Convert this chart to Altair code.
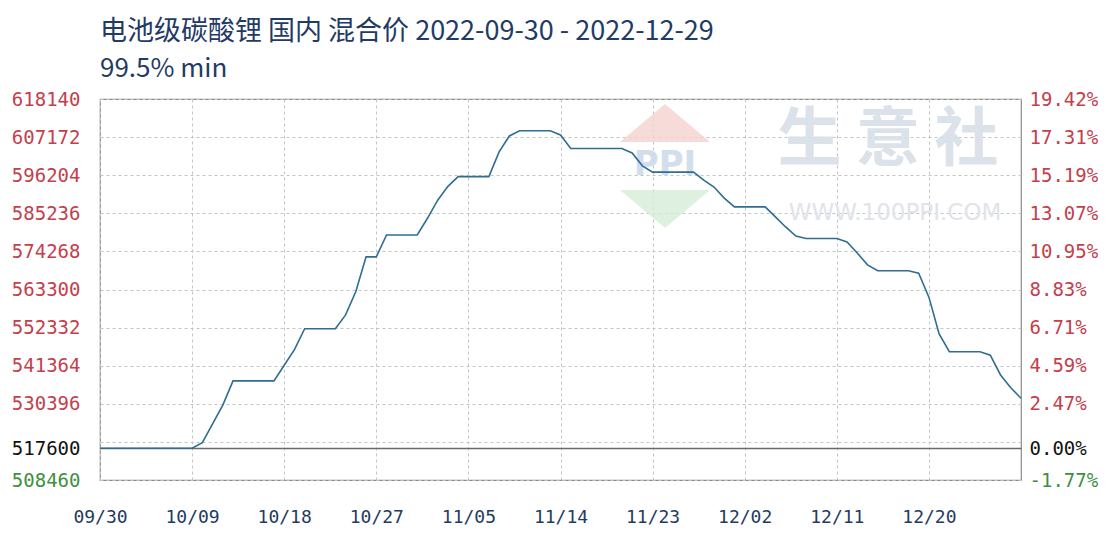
import altair as alt
import pandas as pd

dates = ["2022-09-30", "2022-10-09", "2022-10-10", "2022-10-12", "2022-10-13", "2022-10-17",
         "2022-10-18", "2022-10-19", "2022-10-20", "2022-10-23", "2022-10-24", "2022-10-25",
         "2022-10-26", "2022-10-27", "2022-10-28", "2022-10-31", "2022-11-01", "2022-11-02",
         "2022-11-03", "2022-11-04", "2022-11-07", "2022-11-08", "2022-11-09", "2022-11-10",
         "2022-11-13", "2022-11-14", "2022-11-15", "2022-11-20", "2022-11-21", "2022-11-22",
         "2022-11-23", "2022-11-27", "2022-11-28", "2022-11-29", "2022-11-30", "2022-12-01",
         "2022-12-04", "2022-12-05", "2022-12-06", "2022-12-07", "2022-12-08", "2022-12-11",
         "2022-12-12", "2022-12-13", "2022-12-14", "2022-12-15", "2022-12-18", "2022-12-19",
         "2022-12-20", "2022-12-21", "2022-12-22", "2022-12-25", "2022-12-26", "2022-12-27",
         "2022-12-28", "2022-12-29"]
prices = [517600, 517600, 519200, 530000, 537000, 537000,
          541500, 546000, 552000, 552000, 556000, 562700,
          572700, 572700, 579000, 579000, 583800, 589000,
          593000, 595800, 595800, 602900, 607500, 609000,
          609000, 607800, 603900, 603900, 602600, 598900,
          597100, 597100, 594800, 592800, 589600, 587100,
          587100, 584200, 581300, 578700, 578000, 578000,
          577000, 573800, 570400, 568700, 568700, 568000,
          561100, 550500, 545400, 545400, 544400, 538700,
          535000, 532000]

base_price = 517600
grid_ticks = [618140, 607172, 596204, 585236, 574268, 563300, 552332, 541364, 530396, 519428, 517600, 508460]
label_ticks = [618140, 607172, 596204, 585236, 574268, 563300, 552332, 541364, 530396, 517600, 508460]
x_ticks = ["2022-09-30", "2022-10-09", "2022-10-18", "2022-10-27", "2022-11-05", "2022-11-14",
           "2022-11-23", "2022-12-02", "2022-12-11", "2022-12-20"]
x_domain = ["2022-09-30", "2022-12-29"]
title_text = "电池级碳酸锂 国内 混合价 2022-09-30 - 2022-12-29"
subtitle_text = "99.5% min"


def dt(s):
    y, m, d = (int(p) for p in s.split("-"))
    return alt.DateTime(year=y, month=m, date=d, utc=True)


df = pd.DataFrame({"date": dates, "price": prices})

xscale = alt.Scale(type="utc", domain=[dt(s) for s in x_domain])
yscale = alt.Scale(domain=[508460, 618140], nice=False, zero=False)
xaxis = alt.Axis(values=[dt(s) for s in x_ticks],
                 labelExpr="utcFormat(datum.value, '%m/%d')",
                 grid=True, gridDash=[3, 3], gridColor="#c4c4c4", ticks=False, domain=False,
                 labelFlush=False,
                 labelPadding=28, labelFont="DejaVu Sans Mono", labelFontSize=18,
                 labelColor="#1f3b5e", title=None)

label_color = {"condition": [{"test": "datum.value == 517600", "value": "#111111"},
                             {"test": "datum.value == 508460", "value": "#3f8f3f"}],
               "value": "#c4404c"}

line = alt.Chart(df).mark_line(color="#2f6d93", strokeWidth=1.6).encode(
    x=alt.X("date:T", scale=xscale, axis=xaxis),
    y=alt.Y("price:Q", scale=yscale, axis=alt.Axis(
        values=grid_ticks, format="d",
        labelExpr="datum.value == 519428 ? '' : datum.label",
        grid=True,
        gridColor={"condition": {"test": "datum.value == 517600", "value": "#6a6a6a"}, "value": "#c4c4c4"},
        gridDash={"condition": {"test": "datum.value == 517600", "value": [1, 0]}, "value": [3, 3]},
        gridWidth={"condition": {"test": "datum.value == 517600", "value": 1.5}, "value": 1},
        labelColor=label_color,
        ticks=False, domain=False, title=None, labelPadding=20,
        labelFont="DejaVu Sans Mono", labelFontSize=19)),
)

right = alt.Chart(df).mark_line(opacity=0).encode(
    x=alt.X("date:T", scale=xscale, axis=xaxis),
    y=alt.Y("price:Q", scale=yscale, axis=alt.Axis(
        orient="right", values=label_ticks,
        labelExpr="replace(format((datum.value - 517600) / 517600, '.2%'), '\u2212', '-')",
        grid=False, ticks=False, domain=False, title=None, labelPadding=8,
        labelColor=label_color,
        labelFont="DejaVu Sans Mono", labelFontSize=19)),
)

one = pd.DataFrame({"t": [""]})

wm_logo_up = alt.Chart(one).mark_point(
    shape="M-1,0.42L0,-0.42L1,0.42Z", filled=True, fill="#f4d2cf", opacity=0.8, size=8100, strokeWidth=0
).encode(x=alt.value(565), y=alt.value(24))
wm_logo_down = alt.Chart(one).mark_point(
    shape="M-1,-0.42L0,0.42L1,-0.42Z", filled=True, fill="#d6ecd8", opacity=0.8, size=8100, strokeWidth=0
).encode(x=alt.value(565), y=alt.value(110))
wm_ppi = alt.Chart(pd.DataFrame({"t": ["PPI"]})).mark_text(
    font="DejaVu Sans", fontSize=34, fontWeight="bold", color="#c9d6e8", opacity=0.8
).encode(text="t:N", x=alt.value(565), y=alt.value(66))
wm_name = alt.Chart(pd.DataFrame({"t": ["生 意 社"]})).mark_text(
    font="Noto Sans CJK SC", fontSize=64, fontWeight="bold", color="#d9dfe8", opacity=0.9
).encode(text="t:N", x=alt.value(788), y=alt.value(42))
wm_url = alt.Chart(pd.DataFrame({"t": ["WWW.100PPI.COM"]})).mark_text(
    font="DejaVu Sans", fontSize=23, color="#e0e4ea"
).encode(text="t:N", x=alt.value(795), y=alt.value(114))

chart = alt.layer(
    wm_logo_up, wm_logo_down, wm_ppi, wm_name, wm_url, line, right
).resolve_scale(y="independent").properties(
    width=921, height=381,
    autosize=alt.AutoSizeParams(type="none"),
    padding={"left": 92, "top": 91, "right": 91, "bottom": 51},
    background="#ffffff",
    title=alt.TitleParams(
        text=title_text, subtitle=subtitle_text, anchor="start", frame="group",
        font="Noto Sans CJK SC", fontSize=27, fontWeight="normal", color="#1f3b66",
        subtitleFont="Noto Sans CJK SC", subtitleFontSize=26, subtitleColor="#1f3b66",
        subtitlePadding=10, offset=7,
    ),
).configure_view(stroke="#8a8a8a", strokeWidth=1.2)

chart.save("out.html", embed_options={"renderer": "svg", "actions": False})
